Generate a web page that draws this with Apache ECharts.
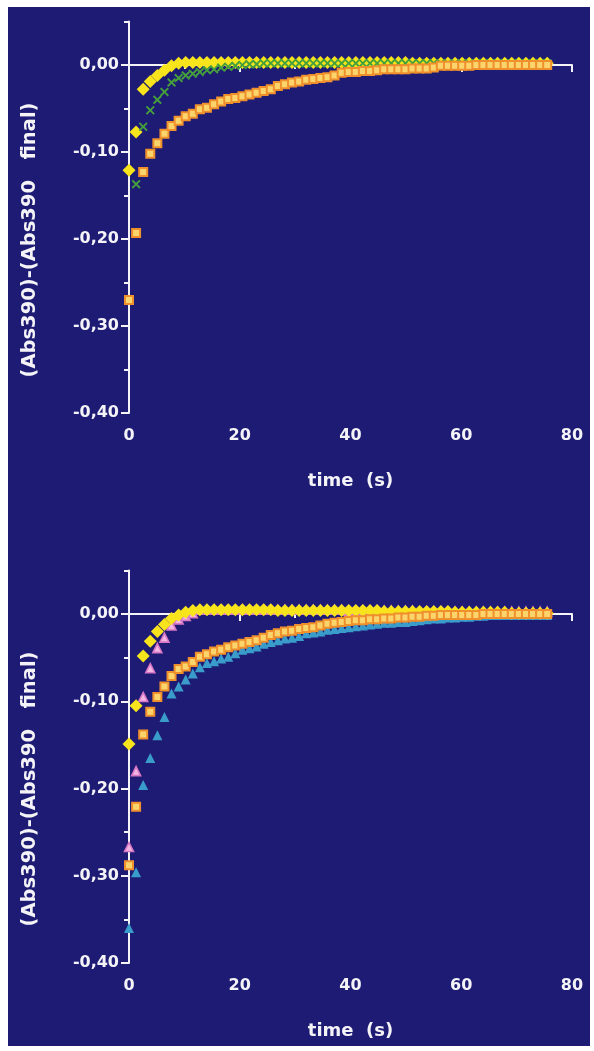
<!DOCTYPE html>
<html>
<head>
<meta charset="utf-8">
<title>Abs390 kinetics</title>
<script src="https://cdn.jsdelivr.net/npm/echarts@6/dist/echarts.min.js"></script>
<style>
  html, body { margin: 0; padding: 0; background: #ffffff; }
  #panel { position: absolute; left: 8px; top: 7px; width: 582px; height: 1039px; background: #1e1b74; }
  #chart { position: absolute; left: 0; top: 0; width: 594px; height: 1051px; }
</style>
</head>
<body>
<div id="panel"></div>
<div id="chart"></div>
<script>
// sampling times (s)
var time = [0, 1.28, 2.56, 3.84, 5.12, 6.4, 7.68, 8.96, 10.24, 11.52,
  12.8, 14.08, 15.36, 16.64, 17.92, 19.2, 20.48, 21.76, 23.04, 24.32,
  25.6, 26.88, 28.16, 29.44, 30.72, 32, 33.28, 34.56, 35.84, 37.12,
  38.4, 39.68, 40.96, 42.24, 43.52, 44.8, 46.08, 47.36, 48.64, 49.92,
  51.2, 52.48, 53.76, 55.04, 56.32, 57.6, 58.88, 60.16, 61.44, 62.72,
  64, 65.28, 66.56, 67.84, 69.12, 70.4, 71.68, 72.96, 74.24, 75.52];

// upper panel
var topYellow = [-0.121, -0.077, -0.028, -0.019, -0.012, -0.006, -0.001, 0.002, 0.003, 0.003,
  0.003, 0.003, 0.003, 0.003, 0.003, 0.003, 0.003, 0.003, 0.003, 0.003,
  0.003, 0.003, 0.003, 0.003, 0.003, 0.003, 0.003, 0.003, 0.003, 0.003,
  0.003, 0.003, 0.003, 0.003, 0.003, 0.003, 0.003, 0.003, 0.003, 0.003,
  0.002, 0.002, 0.002, 0.002, 0.002, 0.002, 0.002, 0.002, 0.002, 0.002,
  0.002, 0.002, 0.002, 0.002, 0.002, 0.002, 0.002, 0.002, 0.002, 0.002];
var topGreen = [null, -0.137, -0.071, -0.052, -0.040, -0.031, -0.020, -0.015, -0.012, -0.010,
  -0.008, -0.006, -0.005, -0.003, -0.002, -0.001, 0.000, 0.001, 0.001, 0.002,
  0.002, 0.002, 0.002, 0.002, 0.002, 0.002, 0.002, 0.002, 0.002, 0.002,
  0.002, 0.002, 0.002, 0.002, 0.002, 0.002, 0.002, 0.002, 0.002, 0.002,
  0.002, 0.002, 0.002, 0.002, 0.002, 0.002, 0.002, 0.002, 0.002, 0.002,
  0.002, 0.002, 0.002, 0.002, 0.002, 0.002, 0.002, 0.002, 0.002, 0.002];
var topOrange = [-0.270, -0.193, -0.123, -0.102, -0.090, -0.079, -0.070, -0.064, -0.059, -0.056,
  -0.051, -0.049, -0.045, -0.042, -0.039, -0.038, -0.036, -0.034, -0.032, -0.030,
  -0.028, -0.024, -0.022, -0.020, -0.019, -0.017, -0.016, -0.015, -0.014, -0.012,
  -0.009, -0.008, -0.008, -0.007, -0.007, -0.006, -0.005, -0.005, -0.005, -0.005,
  -0.004, -0.004, -0.004, -0.003, -0.001, -0.001, -0.001, -0.001, -0.001, 0.000,
  0.000, 0.000, 0.000, 0.000, 0.000, 0.000, 0.000, 0.000, 0.000, 0.000];

// lower panel
var botYellow = [-0.149, -0.105, -0.048, -0.031, -0.020, -0.012, -0.005, -0.001, 0.002, 0.004,
  0.005, 0.005, 0.005, 0.005, 0.005, 0.005, 0.005, 0.005, 0.005, 0.005,
  0.005, 0.004, 0.004, 0.004, 0.004, 0.004, 0.004, 0.004, 0.004, 0.004,
  0.004, 0.004, 0.004, 0.004, 0.004, 0.004, 0.003, 0.003, 0.003, 0.003,
  0.003, 0.003, 0.003, 0.003, 0.003, 0.003, 0.002, 0.002, 0.002, 0.002,
  0.002, 0.002, 0.002, 0.002, 0.001, 0.001, 0.001, 0.001, 0.001, 0.001];
var botPink = [-0.267, -0.180, -0.095, -0.062, -0.039, -0.027, -0.013, -0.006, -0.002, 0.001,
  0.005, 0.005, 0.005, 0.005, 0.005, 0.005, 0.005, 0.005, 0.005, 0.005,
  0.005, 0.005, 0.005, 0.005, 0.005, 0.005, 0.005, 0.005, 0.005, 0.005,
  0.005, 0.004, 0.004, 0.004, 0.004, 0.004, 0.004, 0.004, 0.004, 0.004,
  0.004, 0.003, 0.003, 0.003, 0.003, 0.003, 0.003, 0.003, 0.003, 0.003,
  0.003, 0.003, 0.003, 0.003, 0.003, 0.003, 0.003, 0.003, 0.003, 0.003];
var botOrange = [-0.288, -0.221, -0.138, -0.112, -0.095, -0.083, -0.071, -0.063, -0.060, -0.055,
  -0.049, -0.046, -0.043, -0.041, -0.038, -0.036, -0.034, -0.032, -0.030, -0.027,
  -0.024, -0.022, -0.020, -0.019, -0.017, -0.016, -0.015, -0.013, -0.011, -0.010,
  -0.009, -0.008, -0.007, -0.007, -0.006, -0.006, -0.005, -0.005, -0.004, -0.004,
  -0.003, -0.003, -0.002, -0.002, -0.001, -0.001, -0.001, -0.001, -0.001, -0.001,
  0.000, 0.000, 0.000, 0.000, 0.000, 0.000, 0.000, 0.000, 0.000, 0.000];
var botBlue = [-0.360, -0.296, -0.196, -0.165, -0.139, -0.118, -0.091, -0.083, -0.075, -0.068,
  -0.061, -0.056, -0.054, -0.051, -0.049, -0.045, -0.041, -0.039, -0.037, -0.034,
  -0.032, -0.030, -0.028, -0.027, -0.025, -0.022, -0.021, -0.020, -0.018, -0.017,
  -0.016, -0.015, -0.014, -0.013, -0.012, -0.011, -0.010, -0.010, -0.009, -0.009,
  -0.008, -0.007, -0.006, -0.005, -0.005, -0.004, -0.004, -0.003, -0.003, -0.002,
  -0.002, -0.001, -0.001, -0.001, -0.001, -0.001, -0.001, -0.001, -0.001, -0.001];

var font = "'DejaVu Sans', sans-serif";
var white = '#f4f4f8';
var crossPath = 'path://M0,1.5L1.5,0L5,3.5L8.5,0L10,1.5L6.5,5L10,8.5L8.5,10L5,6.5L1.5,10L0,8.5L3.5,5Z';

function pairs(vals) {
  var out = [];
  for (var i = 0; i < time.length; i++) {
    if (vals[i] !== null) out.push([time[i], vals[i]]);
  }
  return out;
}

function comma(v) {
  return v.toFixed(2).replace('.', ',');
}

function xAx(g) {
  return {
    gridIndex: g, type: 'value', min: 0, max: 80, interval: 20,
    name: 'time  (s)', nameLocation: 'middle', nameGap: 59,
    nameTextStyle: { color: white, fontFamily: font, fontWeight: 'bold', fontSize: 18 },
    axisLine: { lineStyle: { color: white, width: 2 } },
    axisTick: { length: 7, lineStyle: { color: white, width: 2 } },
    minorTick: { show: true, splitNumber: 2, length: 4, lineStyle: { color: white, width: 2 } },
    axisLabel: { color: white, fontFamily: font, fontWeight: 'bold', fontSize: 16, margin: 15 },
    splitLine: { show: false }
  };
}

// minor ticks every 0.05
function yMinor(g) {
  return {
    gridIndex: g, type: 'value', position: 'left', min: -0.4, max: 0.05, interval: 0.05,
    axisLine: { show: true, onZero: false, lineStyle: { color: white, width: 2 } },
    axisTick: { length: 5, lineStyle: { color: white, width: 2 } },
    axisLabel: { show: false },
    splitLine: { show: false }
  };
}

// labelled ticks every 0.10
function yMajor(g) {
  return {
    gridIndex: g, type: 'value', position: 'left', offset: 0, min: -0.4, max: 0.05, interval: 0.1,
    axisLine: { show: false },
    axisTick: { length: 8, lineStyle: { color: white, width: 2 } },
    axisLabel: { color: white, fontFamily: font, fontWeight: 'bold', fontSize: 16, margin: 10,
      showMaxLabel: false, formatter: comma },
    splitLine: { show: false }
  };
}

function scat(name, xi, yi, vals, symbol, size, style) {
  return {
    name: name, type: 'scatter', xAxisIndex: xi, yAxisIndex: yi,
    symbol: symbol, symbolSize: size, itemStyle: style,
    data: pairs(vals), animation: false
  };
}

var yellowStyle = { color: '#f7e41c', opacity: 1 };
var orangeStyle = { color: '#fbd56c', borderColor: '#f0902c', borderWidth: 2, opacity: 1 };
var greenStyle = { color: '#45a03c', opacity: 1 };
var pinkStyle = { color: '#f3b6e4', borderColor: '#d878c4', borderWidth: 1.6, opacity: 1 };
var blueStyle = { color: '#3a9ccb', opacity: 1 };

var title = '(Abs390)-(Abs390   final)';

var chart = echarts.init(document.getElementById('chart'));
chart.setOption({
  backgroundColor: 'transparent',
  animation: false,
  grid: [
    { left: 129, right: 22, top: 21.5, height: 391.5 },
    { left: 129, right: 22, top: 570.5, height: 392.5 }
  ],
  xAxis: [xAx(0), xAx(1)],
  yAxis: [yMinor(0), yMajor(0), yMinor(1), yMajor(1)],
  graphic: [
    { type: 'text', x: 30, y: 240, rotation: Math.PI / 2,
      style: { text: title, fill: white, font: 'bold 19.5px ' + font,
        align: 'center', verticalAlign: 'middle' } },
    { type: 'text', x: 30, y: 789, rotation: Math.PI / 2,
      style: { text: title, fill: white, font: 'bold 19.5px ' + font,
        align: 'center', verticalAlign: 'middle' } }
  ],
  series: [
    scat('yellow', 0, 0, topYellow, 'diamond', 13, yellowStyle),
    scat('green', 0, 0, topGreen, crossPath, 9, greenStyle),
    scat('orange', 0, 0, topOrange, 'rect', 8, orangeStyle),
    scat('blue', 1, 2, botBlue, 'triangle', 10, blueStyle),
    scat('pink', 1, 2, botPink, 'triangle', 9, pinkStyle),
    scat('yellow', 1, 2, botYellow, 'diamond', 13, yellowStyle),
    scat('orange', 1, 2, botOrange, 'rect', 8, orangeStyle)
  ]
});
</script>
</body>
</html>
